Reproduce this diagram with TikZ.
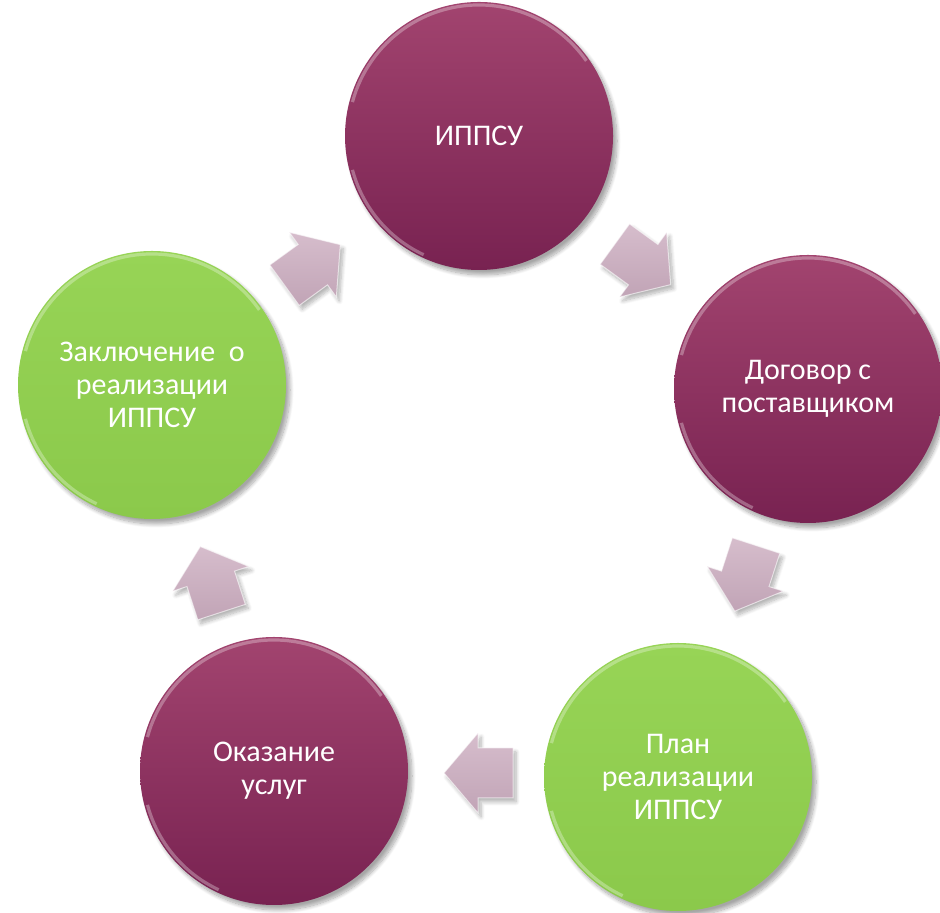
\documentclass[tikz,border=0pt]{standalone}
\usepackage{fontspec}
\setmainfont{Carlito}
\usetikzlibrary{shadows.blur}

\definecolor{plumtop}{HTML}{A2446F}
\definecolor{plumbot}{HTML}{782251}
\definecolor{leaftop}{HTML}{97D456}
\definecolor{leafbot}{HTML}{8BC94B}
\definecolor{arrowtop}{HTML}{D6BDCC}
\definecolor{arrowbot}{HTML}{C1A4B6}

\tikzset{
  cyclearrow/.pic={
    \draw [arrowbody] (-35,-25) -- (0,-25) -- (0,-40) -- (34,0) -- (0,40) -- (0,25) -- (-35,25) -- cycle ;
  }
}

\begin{document}
\begin{tikzpicture}[x=0.5pt,y=0.5pt,
  stagecircle/.style={circle, minimum size=134pt, inner sep=0pt, align=center,
    text=white, font=\fontsize{15}{16.5}\selectfont,
    blur shadow={shadow xshift=2pt, shadow yshift=-2.5pt, shadow blur steps=10, shadow opacity=35}},
  plumstage/.style={stagecircle, top color=plumtop, bottom color=plumbot},
  leafstage/.style={stagecircle, top color=leaftop, bottom color=leafbot},
  rim/.style={line width=1.6pt, white, opacity=0.3},
  arrowbody/.style={top color=arrowtop, bottom color=arrowbot, draw=white, draw opacity=0.6,
    line width=0.5pt, line join=miter,
    blur shadow={shadow xshift=1.5pt, shadow yshift=-2pt, shadow blur steps=8, shadow opacity=30}}]
\useasboundingbox (0,0) rectangle (940,913) ;
% arrows between the stages
\foreach \a in {126,54,-18,-90,198}
  \path [shift={(478,421)}] (\a:281) pic [rotate=\a-90] {cyclearrow} ;
% stages
\node [plumstage] (ippsu) at (479,777) {ИППСУ} ;
\node [plumstage] (dogovor) at (808,524) {Договор с\\поставщиком} ;
\node [leafstage] (plan) at (678,136) {План\\реализации\\ИППСУ} ;
\node [plumstage] (okazanie) at (274,142) {Оказание\\услуг} ;
\node [leafstage] (zakl) at (152,528) {Заключение~~о\\реализации\\ИППСУ} ;
% glossy rims
\foreach \n in {ippsu,dogovor,plan,okazanie,zakl} {
  \draw [rim] (\n.center) ++(35:131) arc (35:165:131) ;
  \draw [rim] (\n.center) ++(195:131) arc (195:245:131) ;
}
\end{tikzpicture}
\end{document}
